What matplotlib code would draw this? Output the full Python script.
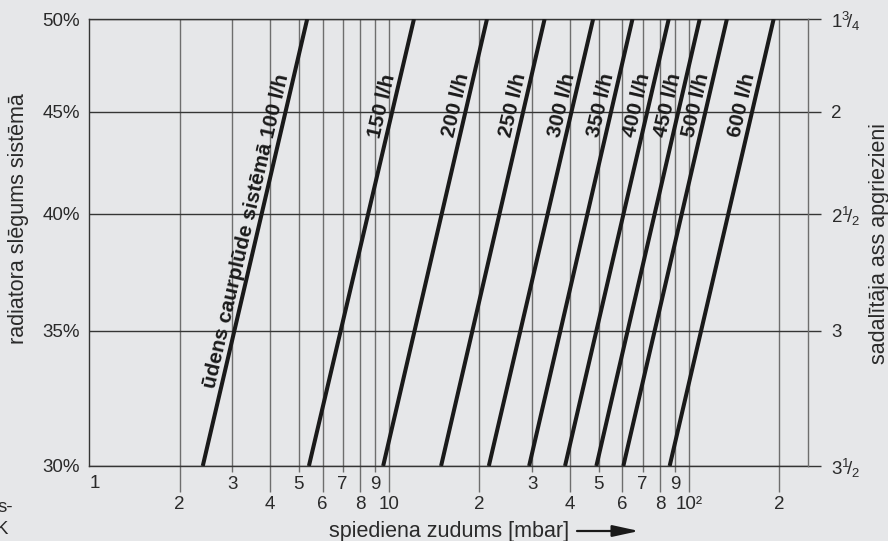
import numpy as np
import matplotlib
matplotlib.use('Agg')
import matplotlib.pyplot as plt
from matplotlib.ticker import FixedLocator, FixedFormatter
from matplotlib.patches import FancyArrowPatch

plt.rcParams['font.family'] = ['Liberation Sans', 'DejaVu Sans']
plt.rcParams['mathtext.fontset'] = 'custom'
plt.rcParams['mathtext.rm'] = 'Liberation Sans'
plt.rcParams['mathtext.default'] = 'regular'

# ---------------- data ----------------
flow_labels = ['ūdens caurplūde sistēmā 100 l/h', '150 l/h', '200 l/h', '250 l/h',
               '300 l/h', '350 l/h', '400 l/h', '450 l/h', '500 l/h', '600 l/h']
dp_at_30 = [2.39, 5.40, 9.55, 14.9, 21.5, 29.3, 38.6, 49.1, 60.4, 86.2]      # mbar at 30 %
dp_at_50 = [5.33, 12.1, 21.2, 33.0, 47.9, 64.8, 85.6, 108.6, 133.8, 191.6]  # mbar at 50 %
y_ticks = [30, 35, 40, 45, 50]
y_tick_labels = ['30%', '35%', '40%', '45%', '50%']
turn_labels = [r'$3^{1}\!/_{2}$', '3', r'$2^{1}\!/_{2}$', '2', r'$1^{3}\!/_{4}$']
y_axis_fraction = [0.0, 0.303, 0.564, 0.793, 1.0]   # non-linear vertical scale of the chart
x_long = [2, 4, 6, 8, 10, 20, 40, 60, 80, 100, 200]
x_long_labels = ['2', '4', '6', '8', '10', '2', '4', '6', '8', '10²', '2']
x_short = [3, 5, 7, 9, 30, 50, 70, 90]
x_short_labels = ['3', '5', '7', '9', '3', '5', '7', '9']
label_level = 46.9

# ---------------- style ----------------
BG = '#e6e7e9'
TXT = '#2a2a2a'
GRIDV = '#6e6e6e'
GRIDH = '#353535'
LINEC = '#1a1a1a'
TICKFS = 13.5
TITLEFS = 15.5

W, H = 888, 541
fig = plt.figure(figsize=(W / 100, H / 100), dpi=100)
fig.patch.set_facecolor(BG)
ax = fig.add_axes([89.3 / W, 1 - 466 / H, (808.3 - 89.3) / W, (466 - 19) / H])
ax.set_facecolor(BG)


def fwd(y):
    return np.interp(y, y_ticks, y_axis_fraction)


def inv(p):
    return np.interp(p, y_axis_fraction, y_ticks)


ax.set_xscale('log')
ax.set_yscale('function', functions=(fwd, inv))
ax.set_xlim(1, 250)
ax.set_ylim(30, 50)
ax.set_axisbelow(True)

for s in ax.spines.values():
    s.set_color(GRIDH)
    s.set_linewidth(1)
ax.spines['right'].set_visible(False)

# x ticks
ax.xaxis.set_major_locator(FixedLocator(x_long))
ax.xaxis.set_major_formatter(FixedFormatter(x_long_labels))
ax.xaxis.set_minor_locator(FixedLocator(x_short))
ax.xaxis.set_minor_formatter(FixedFormatter(x_short_labels))
ax.tick_params(axis='x', which='major', length=18.7, width=1, color=GRIDV,
               pad=3, labelsize=TICKFS, labelcolor=TXT)
ax.tick_params(axis='x', which='minor', length=4.3, width=1, color=GRIDV,
               pad=3, labelsize=TICKFS, labelcolor=TXT)
ax.grid(True, which='both', axis='x', color=GRIDV, lw=1)

# y ticks (left)
ax.set_yticks(y_ticks, y_tick_labels)
ax.tick_params(axis='y', length=0, pad=6.5, labelsize=TICKFS, labelcolor=TXT)
ax.yaxis.grid(True, color=GRIDH, lw=1)

ax.annotate('1', xy=(1, 0), xycoords=('data', 'axes fraction'),
            xytext=(0, -12.3), textcoords='offset points', ha='left', va='center',
            fontsize=TICKFS, color=TXT)

# right axis (turns)
ax2 = ax.twinx()
ax2.set_yscale('function', functions=(fwd, inv))
ax2.set_ylim(30, 50)
ax2.set_yticks(y_ticks, turn_labels)
ax2.tick_params(axis='y', length=9.6, width=1, color=GRIDH, pad=7,
                labelsize=TICKFS, labelcolor=TXT)
for k, s in ax2.spines.items():
    s.set_visible(k == 'right')
ax2.spines['right'].set_color(GRIDV)
ax2.spines['right'].set_linewidth(1)

# flow lines
for lab, a, b in zip(flow_labels, dp_at_30, dp_at_50):
    ax.plot([a, b], [30, 50], color=LINEC, lw=2.9, solid_capstyle='butt', zorder=3)
    p0 = ax.transData.transform((a, 30))
    p1 = ax.transData.transform((b, 50))
    ang = np.arctan2(p1[1] - p0[1], p1[0] - p0[0])
    yd = ax.transData.transform((1, label_level))[1]
    t = (yd - p0[1]) / (p1[1] - p0[1])
    xd = p0[0] + t * (p1[0] - p0[0])
    d = 5.5
    xd -= d * np.sin(ang)
    yd += d * np.cos(ang)
    xdat, ydat = ax.transData.inverted().transform((xd, yd))
    ax.text(xdat, ydat, lab, rotation=np.degrees(ang), rotation_mode='anchor',
            ha='right', va='baseline', fontsize=15, fontweight='bold', color=LINEC,
            zorder=4)

# axis titles
fig.text(18.5 / W, 1 - 219 / H, 'radiatora slēgums sistēmā', rotation=90,
         ha='center', va='center', fontsize=TITLEFS, color=TXT)
fig.text(879 / W, 1 - 244 / H, 'sadalītāja ass apgriezieni', rotation=90,
         ha='center', va='center', fontsize=TITLEFS, color=TXT)
fig.text(449 / W, 1 - 536.5 / H, 'spiediena zudums [mbar]', ha='center',
         va='baseline', fontsize=TITLEFS, color=TXT)
arrow = FancyArrowPatch((577 / W, 1 - 531 / H), (639 / W, 1 - 531 / H),
                        transform=fig.transFigure,
                        arrowstyle='-|>,head_length=1.6,head_width=0.35',
                        mutation_scale=10, lw=1.6, color=LINEC,
                        shrinkA=0, shrinkB=0)
fig.add_artist(arrow)

# clipped fragments at the left border (cut off in the reference too)
fig.text(13 / W, 1 - 508 / H, 's-', ha='right', va='center', fontsize=TICKFS, color=TXT)
fig.text(8 / W, 1 - 530 / H, 'K', ha='right', va='center', fontsize=TICKFS, color=TXT)

fig.savefig('out.png', dpi=100, facecolor=BG)
